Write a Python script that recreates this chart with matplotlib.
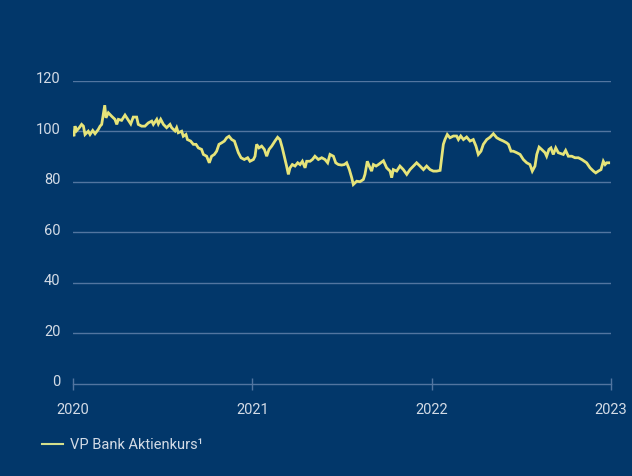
import matplotlib

matplotlib.use("Agg")
import matplotlib.pyplot as plt
import matplotlib.transforms as mtransforms

# Share price (time in years since start of 2020)
years = [
    0.000, 0.005, 0.011, 0.020, 0.035, 0.048, 0.058, 0.067, 0.085, 0.095,
    0.110, 0.123, 0.141, 0.151, 0.160, 0.169, 0.177, 0.184, 0.197, 0.216,
    0.234, 0.244, 0.253, 0.271, 0.290, 0.309, 0.322, 0.336, 0.355, 0.364,
    0.383, 0.401, 0.420, 0.439, 0.448, 0.467, 0.476, 0.489, 0.504, 0.522,
    0.541, 0.550, 0.569, 0.578, 0.587, 0.606, 0.615, 0.630, 0.638, 0.656,
    0.671, 0.686, 0.699, 0.717, 0.727, 0.745, 0.760, 0.773, 0.788, 0.801,
    0.814, 0.829, 0.844, 0.857, 0.870, 0.885, 0.900, 0.913, 0.922, 0.937,
    0.955, 0.974, 0.987, 1.006, 1.015, 1.024, 1.037, 1.052, 1.067, 1.080,
    1.093, 1.108, 1.126, 1.141, 1.154, 1.167, 1.178, 1.191, 1.201, 1.210,
    1.223, 1.238, 1.253, 1.266, 1.279, 1.294, 1.303, 1.322, 1.335, 1.349,
    1.368, 1.387, 1.405, 1.420, 1.433, 1.452, 1.465, 1.480, 1.498, 1.513,
    1.526, 1.541, 1.554, 1.563, 1.582, 1.600, 1.619, 1.628, 1.641, 1.652,
    1.665, 1.675, 1.690, 1.703, 1.716, 1.731, 1.749, 1.768, 1.777, 1.786,
    1.805, 1.823, 1.842, 1.861, 1.879, 1.898, 1.916, 1.935, 1.954, 1.972,
    1.991, 2.009, 2.028, 2.047, 2.056, 2.065, 2.074, 2.087, 2.102, 2.121,
    2.139, 2.149, 2.162, 2.177, 2.195, 2.214, 2.232, 2.247, 2.260, 2.275,
    2.288, 2.307, 2.325, 2.344, 2.363, 2.381, 2.400, 2.418, 2.428, 2.442,
    2.455, 2.474, 2.493, 2.511, 2.530, 2.548, 2.561, 2.576, 2.586, 2.599,
    2.613, 2.632, 2.641, 2.654, 2.665, 2.678, 2.692, 2.706, 2.721, 2.734,
    2.747, 2.762, 2.781, 2.799, 2.818, 2.837, 2.851, 2.864, 2.883, 2.902,
    2.915, 2.929, 2.944, 2.957, 2.967, 2.976, 2.987,
]
price = [
    99.5, 98.1, 102.1, 100.3, 101.5, 102.8, 102.1, 98.8, 100.1, 98.8,
    100.4, 99.1, 100.8, 102.1, 102.8, 106.7, 110.4, 105.4, 107.4, 106.0,
    104.8, 102.8, 104.8, 104.4, 106.5, 104.4, 103.0, 105.7, 105.7, 102.8,
    102.1, 102.1, 103.4, 104.1, 102.8, 104.8, 103.0, 104.8, 102.8, 101.5,
    102.8, 101.5, 100.2, 101.5, 99.5, 100.1, 98.1, 98.8, 96.8, 96.2,
    94.9, 94.9, 93.5, 92.9, 90.9, 90.2, 87.6, 90.2, 90.9, 92.2,
    94.9, 95.5, 96.2, 97.5, 98.1, 96.8, 96.2, 93.5, 91.6, 89.6,
    88.9, 89.6, 88.2, 88.9, 90.2, 94.9, 93.5, 94.2, 92.9, 90.2,
    92.9, 94.2, 96.2, 97.7, 96.8, 93.5, 90.2, 86.3, 83.0, 85.6,
    86.9, 86.3, 87.6, 86.9, 88.2, 85.6, 88.2, 88.2, 88.9, 90.2,
    88.9, 89.6, 88.9, 87.6, 90.9, 90.2, 87.6, 86.9, 86.7, 86.9,
    87.6, 84.9, 81.7, 79.0, 80.3, 80.1, 81.0, 83.0, 88.2, 86.3,
    84.3, 86.9, 86.3, 86.9, 87.6, 88.4, 85.6, 84.3, 81.7, 84.9,
    84.3, 86.3, 84.9, 83.0, 84.9, 86.3, 87.6, 86.3, 84.9, 86.3,
    84.9, 84.3, 84.3, 84.6, 89.6, 94.9, 96.8, 98.8, 97.5, 98.2,
    98.2, 96.8, 98.2, 96.8, 97.8, 96.2, 96.8, 94.2, 90.9, 92.2,
    94.9, 96.8, 97.7, 99.1, 97.5, 96.8, 96.2, 95.5, 94.9, 92.2,
    92.2, 91.6, 90.9, 88.9, 87.6, 86.9, 84.3, 86.3, 90.9, 93.8,
    92.9, 91.6, 90.2, 92.9, 93.5, 90.9, 93.5, 91.6, 91.2, 90.9,
    92.5, 90.2, 90.2, 89.6, 89.6, 88.9, 88.2, 87.6, 85.6, 84.3,
    83.6, 84.3, 84.9, 88.2, 86.9, 87.6, 87.6,
]
year_ticks = [0, 1, 2, 3]
year_labels = ["2020", "2021", "2022", "2023"]
y_ticks = [0, 20, 40, 60, 80, 100, 120]

bg = "#02376a"
line_col = "#e6e47a"
grid_col = "#5275a0"
text_col = "#d3dbe6"

plt.rcParams["font.family"] = ["Roboto", "DejaVu Sans"]

fig = plt.figure(figsize=(6.32, 4.76), dpi=100, facecolor=bg)
ax = fig.add_axes([0.1155, 0.1933, 0.8513, 0.6366], facecolor=bg)

(ln,) = ax.plot(years, price, color=line_col, lw=2.0, solid_joinstyle="miter",
                label="VP Bank Aktienkurs¹")

ax.set_xlim(0, 3)
ax.set_ylim(0, 120)
ax.set_yticks(y_ticks)
ax.set_xticks(year_ticks)
ax.set_xticklabels(year_labels)

# horizontal grid lines (the 0 line is the bottom spine)
for v in y_ticks[1:]:
    ax.axhline(v, color=grid_col, lw=1, zorder=0)

for side in ["top", "right", "left"]:
    ax.spines[side].set_visible(False)
ax.spines["bottom"].set_color(grid_col)
ax.spines["bottom"].set_linewidth(1)

ax.tick_params(axis="y", length=0, pad=9, labelcolor=text_col, labelsize=10.5)
ax.tick_params(axis="x", direction="inout", length=8, width=1, color=grid_col,
               pad=10, labelcolor=text_col, labelsize=10.5)

# lift the y labels slightly above their lines
shift = mtransforms.ScaledTranslation(0, 3 / 100, fig.dpi_scale_trans)
for lab in ax.get_yticklabels():
    lab.set_transform(lab.get_transform() + shift)

leg = fig.legend(handles=[ln], loc="center left", bbox_to_anchor=(0.046, 0.065),
                 frameon=False, fontsize=10.5, handlelength=1.4, handletextpad=0.5)
for t in leg.get_texts():
    t.set_color(text_col)
leg.legend_handles[0].set_color("#d4df8c")
leg.legend_handles[0].set_linewidth(1.5)

fig.savefig("out.png", dpi=100, facecolor=bg)
